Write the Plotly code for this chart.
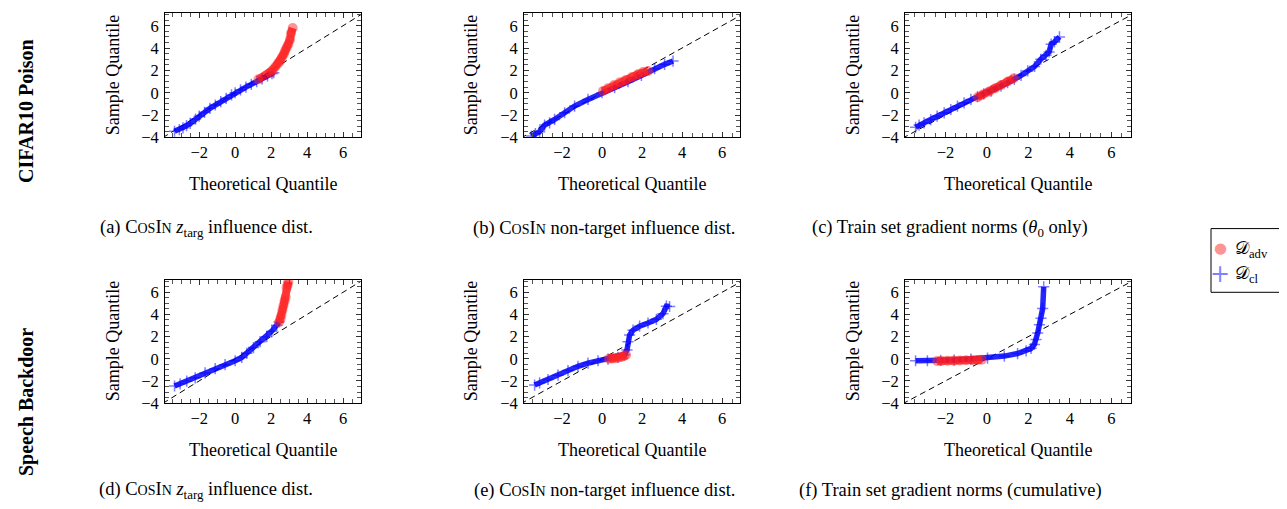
import plotly.graph_objects as go

# ---------------- data ----------------
# Panel (a) CIFAR10 Poison, CosIn z_targ influence
a_cl_x = [-3.37, -3.1, -2.9, -2.7, -2.5, -2.2, -2.0, -1.7, -1.4, -1.1, -0.8, -0.5, -0.2, 0.0, 0.3, 0.6, 0.9, 1.2, 1.5, 1.8, 2.05, 2.15]
a_cl_y = [-3.45, -3.3, -3.15, -2.95, -2.75, -2.35, -2.1, -1.75, -1.4, -1.1, -0.8, -0.5, -0.2, 0.0, 0.25, 0.5, 0.75, 1.0, 1.25, 1.5, 1.7, 1.8]
a_adv_x = [1.3, 1.96, 2.1, 2.25, 2.4, 2.5, 2.6, 2.7, 2.78, 2.87, 2.96, 3.05, 3.11, 3.2]
a_adv_y = [1.2, 1.8, 2.05, 2.35, 2.65, 2.85, 3.15, 3.45, 3.75, 4.05, 4.35, 4.75, 5.35, 5.8]

# Panel (b) CIFAR10 Poison, CosIn non-target influence
b_cl_x = [-3.53, -3.33, -3.12, -2.87, -2.62, -2.37, -1.87, -1.37, -0.7, 0.0, 0.63, 1.3, 1.97, 2.63, 3.13, 3.55]
b_cl_y = [-3.88, -3.67, -3.49, -2.9, -2.69, -2.39, -1.79, -1.19, -0.6, 0.0, 0.45, 0.99, 1.55, 2.15, 2.54, 2.84]
b_adv_x = [0.05, 0.3, 0.6, 0.9, 1.2, 1.5, 1.8, 2.05, 2.3]
b_adv_y = [0.15, 0.4, 0.7, 0.95, 1.15, 1.4, 1.65, 1.85, 1.95]

# Panel (c) CIFAR10 Poison, train set gradient norms (theta_0 only)
c_cl_x = [-3.44, -3.27, -3.03, -2.71, -2.4, -2.06, -1.74, -1.42, -1.1, -0.77, -0.45, -0.15, 0.2, 0.68, 1.0, 1.32, 1.65, 1.97, 2.3, 2.6, 2.85, 3.0, 3.1, 3.26, 3.5]
c_cl_y = [-3.1, -2.9, -2.7, -2.4, -2.1, -1.8, -1.5, -1.2, -0.9, -0.6, -0.35, -0.1, 0.15, 0.6, 0.9, 1.2, 1.55, 1.95, 2.35, 3.0, 3.35, 3.65, 4.35, 4.55, 5.0]
c_adv_x = [-0.45, -0.2, 0.1, 0.4, 0.7, 1.0, 1.3]
c_adv_y = [-0.4, -0.15, 0.1, 0.4, 0.7, 1.0, 1.3]

# Panel (d) Speech Backdoor, CosIn z_targ influence
d_cl_x = [-3.37, -3.06, -2.69, -2.22, -1.67, -1.11, -0.56, 0.0, 0.37, 0.65, 1.02, 1.39, 1.76, 2.04, 2.31, 2.44]
d_cl_y = [-2.46, -2.26, -2.02, -1.72, -1.28, -0.89, -0.53, -0.18, 0.12, 0.5, 1.01, 1.54, 1.99, 2.49, 3.03, 3.32]
d_adv_x = [2.44, 2.52, 2.58, 2.63, 2.69, 2.75, 2.81, 2.86, 2.92, 2.96]
d_adv_y = [3.3, 3.6, 3.95, 4.4, 4.8, 5.2, 5.55, 6.4, 6.7, 6.95]

# Panel (e) Speech Backdoor, CosIn non-target influence
e_cl_x = [-3.37, -3.12, -2.7, -2.2, -1.7, -1.2, -0.7, -0.2, 0.3, 0.8, 1.13, 1.25, 1.3, 1.38, 1.55, 1.88, 2.3, 2.72, 3.05, 3.22, 3.38]
e_cl_y = [-2.37, -2.17, -1.87, -1.48, -1.07, -0.68, -0.39, -0.18, -0.03, 0.12, 0.36, 0.8, 1.54, 2.14, 2.58, 2.94, 3.23, 3.56, 4.07, 4.75, 4.72]
e_adv_x = [0.35, 0.5, 0.65, 0.8, 0.95, 1.1, 1.2]
e_adv_y = [0.0, 0.02, 0.05, 0.1, 0.15, 0.25, 0.35]

# Panel (f) Speech Backdoor, train set gradient norms (cumulative)
f_cl_x = [-3.44, -2.87, -2.23, -1.58, -0.77, 0.03, 0.84, 1.48, 1.89, 2.13, 2.29, 2.37, 2.45, 2.53, 2.61, 2.69, 2.74]
f_cl_y = [-0.18, -0.18, -0.15, -0.12, -0.03, 0.06, 0.24, 0.47, 0.71, 0.94, 1.29, 1.74, 2.32, 3.06, 3.65, 4.53, 6.5]
f_adv_x = [-2.4, -2.2, -1.9, -1.6, -1.3, -1.0, -0.7, -0.45, -0.25]
f_adv_y = [-0.2, -0.2, -0.18, -0.17, -0.15, -0.14, -0.12, -0.1, -0.08]

ref_line = [-4.5, 7.5]   # y = x reference

x_tick_vals = [-2, 0, 2, 4, 6]
x_tick_text = ["\u22122", "0", "2", "4", "6"]
y_tick_vals = [-4, -2, 0, 2, 4, 6]
y_tick_text = ["\u22124", "\u22122", "0", "2", "4", "6"]

row_labels = ["CIFAR10 Poison", "Speech Backdoor"]
SC = "<span style='font-size:14px'>"
cosin = "C" + SC + "OS</span>I" + SC + "N</span>"
captions = [
    "(a) " + cosin + " <i>z</i><sub>targ</sub> influence dist.",
    "(b) " + cosin + " non-target influence dist.",
    "(c) Train set gradient norms (<i>θ</i><sub>0</sub> only)",
    "(d) " + cosin + " <i>z</i><sub>targ</sub> influence dist.",
    "(e) " + cosin + " non-target influence dist.",
    "(f) Train set gradient norms (cumulative)",
]
legend_names = ["𝒟<sub>adv</sub>", "𝒟<sub>cl</sub>"]

panels = [
    (a_cl_x, a_cl_y, a_adv_x, a_adv_y),
    (b_cl_x, b_cl_y, b_adv_x, b_adv_y),
    (c_cl_x, c_cl_y, c_adv_x, c_adv_y),
    (d_cl_x, d_cl_y, d_adv_x, d_adv_y),
    (e_cl_x, e_cl_y, e_adv_x, e_adv_y),
    (f_cl_x, f_cl_y, f_adv_x, f_adv_y),
]

# ---------------- layout geometry ----------------
W, H = 1287, 509
FONT = "Liberation Serif, Times New Roman, serif"
col_px = [(157, 353), (516, 732), (897, 1123)]
row_px = [(5, 132), (277, 403)]
x_ranges = [[-3.9, 7.0], [-3.9, 6.9], [-3.95, 6.95]]
y_range = [-4, 7.15]
ylab_x = [105, 463, 845]
caption_x = [198, 596, 942]
caption_y = [225, 492]

BLUE_LINE = "rgba(0,0,255,0.85)"
BLUE_MARK = "rgba(0,0,255,0.5)"
RED_LINE = "rgba(255,0,0,0.75)"
RED_MARK = "rgba(255,40,40,0.5)"

fig = go.Figure()
layout = dict(
    width=W, height=H, margin=dict(l=0, r=0, t=0, b=0),
    paper_bgcolor="white", plot_bgcolor="white",
    font=dict(family=FONT, color="black"),
    showlegend=False,
)
annotations = []
shapes = []

for i, (cx, cy, ax_, ay_) in enumerate(panels):
    r, c = divmod(i, 3)
    k = "" if i == 0 else str(i + 1)
    xa, ya = "x" + k, "y" + k
    x0, x1 = col_px[c]
    y0, y1 = row_px[r]
    common = dict(showline=True, linecolor="black", linewidth=1, mirror="allticks",
                  ticks="inside", ticklen=5, tickwidth=0.8, tickcolor="#333",
                  showgrid=False, zeroline=False,
                  tickfont=dict(family=FONT, size=16.5, color="black"),
                  minor=dict(ticks="inside", ticklen=4, dtick=0.5, tick0=0,
                             tickwidth=0.7, tickcolor="#555", showgrid=False))
    layout["xaxis" + k] = dict(domain=[x0 / W, x1 / W], range=x_ranges[c], anchor=ya,
                               tickmode="array", tickvals=x_tick_vals, ticktext=x_tick_text,
                               ticklabelstandoff=0, **common)
    layout["yaxis" + k] = dict(domain=[1 - y1 / H, 1 - y0 / H], range=y_range, anchor=xa,
                               tickmode="array", tickvals=y_tick_vals, ticktext=y_tick_text,
                               ticklabelstandoff=2, **common)
    # reference line
    fig.add_trace(go.Scatter(x=ref_line, y=ref_line, mode="lines", xaxis=xa, yaxis=ya,
                             line=dict(color="black", width=1, dash="6px,4px"),
                             hoverinfo="skip"))
    # clean set (blue band + crosses)
    fig.add_trace(go.Scatter(x=cx, y=cy, mode="lines", xaxis=xa, yaxis=ya,
                             line=dict(color=BLUE_LINE, width=5.5), hoverinfo="skip"))
    fig.add_trace(go.Scatter(x=cx, y=cy, mode="markers", xaxis=xa, yaxis=ya,
                             marker=dict(symbol="cross-thin", size=8,
                                         line=dict(color=BLUE_MARK, width=1.5)),
                             name="D_cl"))
    # adversarial set (red band + circles)
    fig.add_trace(go.Scatter(x=ax_, y=ay_, mode="lines", xaxis=xa, yaxis=ya,
                             line=dict(color=RED_LINE, width=8), hoverinfo="skip"))
    fig.add_trace(go.Scatter(x=ax_, y=ay_, mode="markers", xaxis=xa, yaxis=ya,
                             marker=dict(symbol="circle", size=10, color=RED_MARK,
                                         line=dict(width=0)),
                             name="D_adv"))

    # axis titles
    annotations.append(dict(text="Sample Quantile", x=ylab_x[c] / W, y=1 - (y0 + y1) / 2 / H,
                            xref="paper", yref="paper", showarrow=False, textangle=-90,
                            xanchor="center", yanchor="middle",
                            font=dict(family=FONT, size=18)))
    annotations.append(dict(text="Theoretical Quantile", x=(x0 + x1) / 2 / W,
                            y=1 - (y1 + 48) / H, xref="paper", yref="paper",
                            showarrow=False, xanchor="center", yanchor="middle",
                            font=dict(family=FONT, size=18)))
    # captions
    annotations.append(dict(text=captions[i], x=caption_x[c] / W, y=1 - caption_y[r] / H,
                            xref="paper", yref="paper", showarrow=False,
                            xanchor="center", yanchor="middle",
                            font=dict(family=FONT, size=18.5)))

for r, lab in enumerate(row_labels):
    yc = [105, 402][r]
    annotations.append(dict(text="<b>" + lab + "</b>", x=18 / W, y=1 - yc / H,
                            xref="paper", yref="paper", showarrow=False, textangle=-90,
                            xanchor="center", yanchor="middle",
                            font=dict(family=FONT, size=20)))

# ---------------- legend (drawn as a boxed key) ----------------
LX0, LX1, LY0, LY1 = 1203, 1283, 225, 290
shapes.append(dict(type="rect", xref="paper", yref="paper",
                   x0=LX0 / W, x1=LX1 / W, y0=1 - LY1 / H, y1=1 - LY0 / H,
                   line=dict(color="black", width=1), fillcolor="white", layer="above"))
legend_symbols = [("●", RED_MARK, 15), ("+", BLUE_MARK, 24)]
for j, (name, (sym, col, sz)) in enumerate(zip(legend_names, legend_symbols)):
    yc = [245, 271][j]
    annotations.append(dict(text=sym, x=1212 / W, y=1 - yc / H, xref="paper", yref="paper",
                            showarrow=False, xanchor="center", yanchor="middle",
                            font=dict(family="DejaVu Sans", size=sz, color=col)))
    annotations.append(dict(text=name, x=1225 / W, y=1 - (yc + 1) / H, xref="paper",
                            yref="paper", showarrow=False, xanchor="left", yanchor="middle",
                            font=dict(family=FONT, size=18)))

layout["annotations"] = annotations
layout["shapes"] = shapes
fig.update_layout(**layout)
fig.write_html("out.html")
